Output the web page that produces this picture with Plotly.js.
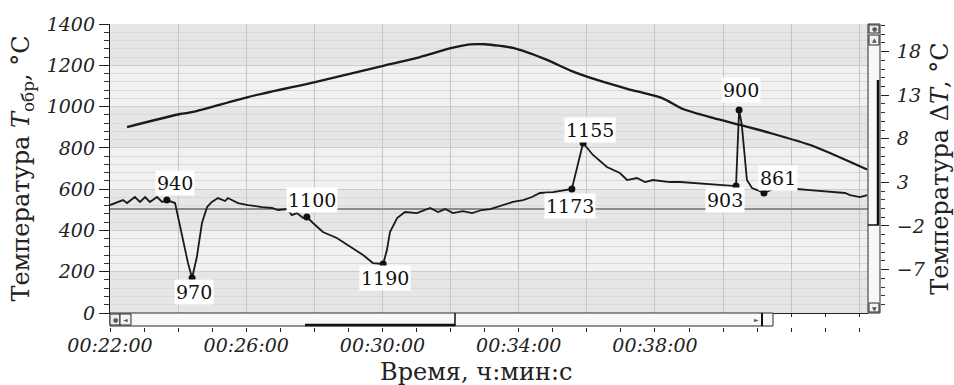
<!DOCTYPE html>
<html><head><meta charset="utf-8">
<script src="https://cdn.plot.ly/plotly-3.0.1.min.js"></script>
<style>html,body{margin:0;padding:0;background:#fff}#chart{width:954px;height:385px}</style>
</head><body><div id="chart"></div>
<script>
// ---- data (minutes since 00:00:00) ----
const tTime = [22.50, 24.06, 24.44, 26.05, 28.02, 30.02, 31.10, 32.04, 32.57, 33.01, 33.83, 34.83, 35.56, 36.30, 37.21, 38.21, 38.82, 39.70, 40.50, 41.38, 42.64, 44.23];
const tTemp = [901, 964, 974, 1046, 1119, 1197, 1240, 1284, 1301, 1302, 1284, 1226, 1172, 1129, 1085, 1041, 988, 945, 911, 872, 809, 695];

const dtTime = [22.00, 22.15, 22.38, 22.50, 22.73, 22.88, 23.03, 23.17, 23.38, 23.53, 23.67, 23.91, 24.00, 24.14, 24.29, 24.41, 24.55, 24.70, 24.85, 24.99, 25.17, 25.38, 25.46, 25.76, 26.05, 26.46, 26.76, 26.93, 27.20, 27.34, 27.49, 27.67, 27.78, 27.96, 28.25, 28.66, 29.05, 29.43, 29.72, 30.02, 30.13, 30.22, 30.43, 30.66, 31.01, 31.40, 31.63, 31.84, 32.07, 32.36, 32.63, 32.92, 33.16, 33.54, 33.83, 34.13, 34.39, 34.62, 35.01, 35.56, 35.71, 35.89, 36.18, 36.59, 36.97, 37.18, 37.47, 37.71, 37.94, 38.44, 38.74, 39.70, 40.38, 40.47, 40.55, 40.70, 40.85, 41.00, 41.20, 41.47, 42.17, 42.55, 43.14, 43.58, 43.73, 44.02, 44.23];
const dtVal  = [0.40, 0.63, 0.97, 0.63, 1.32, 0.75, 1.32, 0.75, 1.32, 0.75, 0.97, 0.63, -0.97, -3.61, -6.25, -7.97, -5.56, -1.66, 0.17, 0.75, 1.20, 0.86, 1.20, 0.63, 0.40, 0.17, 0.06, -0.17, -0.06, -0.75, -0.52, -1.09, -0.97, -1.66, -2.69, -3.38, -4.42, -5.33, -6.25, -6.36, -4.76, -2.69, -1.09, -0.40, -0.52, 0.06, -0.40, -0.06, -0.52, -0.29, -0.52, -0.17, -0.06, 0.40, 0.75, 0.97, 1.32, 1.78, 1.89, 2.24, 4.76, 7.51, 6.14, 4.76, 4.07, 3.27, 3.50, 3.04, 3.27, 3.04, 3.04, 2.81, 2.58, 11.30, 9.60, 3.27, 2.35, 2.12, 1.78, 2.24, 2.24, 2.12, 1.89, 1.78, 1.55, 1.32, 1.55];

const evTime  = [23.67, 24.41, 27.78, 30.02, 35.56, 35.89, 40.38, 40.47, 41.20];
const evDT    = [0.97, -7.97, -0.97, -6.36, 2.24, 7.51, 2.58, 11.30, 1.78];
const evLabel = ['940', '970', '1100', '1190', '1173', '1155', '903', '900', '861'];

const xTickVals = [22, 26, 30, 34, 38];
const xTickText = ['00:22:00', '00:26:00', '00:30:00', '00:34:00', '00:38:00'];
const yLeftTicks = [0, 200, 400, 600, 800, 1000, 1200, 1400];
const yRightTicks = [-7, -2, 3, 8, 13, 18];

// ---- layout helpers ----
const FONT = 'DejaVu Serif';
const W = 954, H = 385, L = 110, R = 74, T = 24, B = 58;
const PW = W - L - R, PH = H - T - B;
const px = v => (v - L) / PW;
const py = v => (H - B - v) / PH;
const evShift = [[8, 17], [2, -14], [5, 17], [2, -14], [-2, -17], [7, 13], [-11, -14], [2, 20], [14, 15]];
const ital = s => '<i>' + s + '</i>';
const fmtNum = v => (v < 0 ? '\u2212' + Math.abs(v) : String(v));

const xRange = [22, 22 + 758 / 34.06];
const tickFont = {family: FONT, size: 19, color: '#222'};

const traces = [
  {x: tTime, y: tTemp, xaxis: 'x', yaxis: 'y', mode: 'lines', line: {color: '#1a1a1a', width: 2.3, shape: 'spline', smoothing: 0.6}, hoverinfo: 'skip'},
  {x: dtTime, y: dtVal, xaxis: 'x', yaxis: 'y2', mode: 'lines', line: {color: '#1a1a1a', width: 1.8}, hoverinfo: 'skip'},
  {x: evTime, y: evDT, xaxis: 'x2', yaxis: 'y2', mode: 'markers', marker: {color: '#111', size: 7}, hoverinfo: 'skip'}
];

const shapes = [];
for (let i = 0; i < yLeftTicks.length - 1; i++) {
  shapes.push({type: 'rect', layer: 'below', xref: 'paper', yref: 'y', x0: 0, x1: px(868), y0: yLeftTicks[i], y1: yLeftTicks[i + 1],
    fillcolor: i % 2 === 0 ? '#e6e6e6' : '#f1f1f1', line: {width: 0}});
}
const dark = '#2a2a2a';
function rect(x0, x1, y0, y1, fill, lw) {
  shapes.push({type: 'rect', layer: 'above', xref: 'paper', yref: 'paper', x0: px(x0), x1: px(x1), y0: py(y1), y1: py(y0),
    fillcolor: fill, line: {color: dark, width: lw === undefined ? 1 : lw}});
}
function seg(x0, y0, x1, y1, w) {
  shapes.push({type: 'line', layer: 'above', xref: 'paper', yref: 'paper', x0: px(x0), x1: px(x1), y0: py(y0), y1: py(y1),
    line: {color: '#111', width: w}});
}
// bottom scrollbar
rect(110, 773, 313, 326, '#f8f8f8');
rect(110, 120, 314, 325, '#eeeeee');
rect(120, 131, 314, 325, '#f4f4f4');
seg(305, 325, 455, 325, 2.5);
seg(455, 313, 455, 326, 1.5);
seg(762, 313, 762, 326, 2);
// right scrollbar
rect(868, 880, 24, 313, '#f8f8f8');
rect(869, 879, 25, 33, '#eeeeee');
rect(869, 879, 35, 45, '#f4f4f4');
rect(869, 879, 303, 312, '#f4f4f4');
seg(878, 80, 878, 225, 2.5);
seg(868, 225, 879, 225, 1.5);

const annotations = evLabel.map((t, i) => ({
  x: evTime[i], y: evDT[i], xref: 'x', yref: 'y2', text: t, showarrow: false,
  xshift: evShift[i][0], yshift: evShift[i][1], bgcolor: '#ffffff', borderpad: 1,
  font: {family: FONT, size: 19, color: '#111'}
}));
annotations.push({xref: 'paper', yref: 'paper', x: px(476), y: py(372), text: 'Время, ч:мин:с', showarrow: false,
  xanchor: 'center', yanchor: 'middle', font: {family: FONT, size: 24, color: '#222'}});
const glyphs = [['◄', 125.5, 319.5], ['►', 756, 319.5], ['▲', 874, 40], ['▼', 874, 308], ['●', 115, 319.5], ['●', 874, 29]];
glyphs.forEach(g => annotations.push({xref: 'paper', yref: 'paper', x: px(g[1]), y: py(g[2]), text: g[0], showarrow: false,
  xanchor: 'center', yanchor: 'middle', font: {family: 'DejaVu Sans', size: 6, color: '#555'}}));

const layout = {
  width: W, height: H, margin: {l: L, r: R, t: T, b: B, pad: 0},
  paper_bgcolor: '#ffffff', plot_bgcolor: '#ececec', showlegend: false,
  font: {family: FONT, color: '#222'},
  xaxis: {domain: [0, px(868)], range: xRange, anchor: 'free', position: 0,
    tickmode: 'array', tickvals: xTickVals, ticktext: xTickText.map(ital), ticks: 'outside', ticklen: 4, tickcolor: '#222',
    minor: {dtick: 1, tick0: 22, ticks: 'outside', ticklen: 4, tickcolor: '#222', showgrid: false},
    showgrid: false, showline: false, zeroline: false, tickfont: tickFont, ticklabelstandoff: -3},
  xaxis2: {overlaying: 'x', anchor: 'y', side: 'bottom', range: xRange, tick0: 22, dtick: 2,
    ticks: 'outside', ticklen: 3, tickcolor: '#222', showticklabels: false,
    minor: {dtick: 1, tick0: 22, ticks: 'outside', ticklen: 3, tickcolor: '#222'},
    showgrid: true, gridcolor: '#c6c6c6', gridwidth: 1, showline: true, linecolor: '#222', linewidth: 1.2, zeroline: false},
  yaxis: {domain: [py(313), 1], range: [0, 1400], tickmode: 'array', tickvals: yLeftTicks, ticktext: yLeftTicks.map(v => ital(fmtNum(v))),
    ticks: 'outside', ticklen: 10, tickcolor: '#222',
    minor: {dtick: 40, tick0: 0, ticks: 'outside', ticklen: 5, tickcolor: '#333', showgrid: true, gridcolor: '#d9d9d9'},
    showgrid: true, gridcolor: '#cccccc', showline: true, linecolor: '#222', linewidth: 1.2, zeroline: false,
    tickfont: tickFont,
    title: {text: 'Температура <i>T</i><sub>обр</sub>, °C', font: {family: FONT, size: 24, color: '#222'}, standoff: 10}},
  yaxis2: {overlaying: 'y', side: 'right', anchor: 'free', position: 1, range: [-11.98, 21.16],
    tickmode: 'array', tickvals: yRightTicks, ticktext: yRightTicks.map(v => ital(fmtNum(v))),
    ticks: 'outside', ticklen: 8, tickcolor: '#222',
    minor: {dtick: 1, tick0: 3, ticks: 'outside', ticklen: 4, tickcolor: '#333'},
    showgrid: false, showline: false, zeroline: true, zerolinecolor: '#8c8c8c', zerolinewidth: 2,
    tickfont: tickFont, ticklabelstandoff: 4,
    title: {text: 'Температура Δ<i>T</i>, °C', font: {family: FONT, size: 24, color: '#222'}, standoff: 8}},
  shapes: shapes, annotations: annotations
};

Plotly.newPlot('chart', traces, layout, {displayModeBar: false, staticPlot: true});
</script>
</body></html>
